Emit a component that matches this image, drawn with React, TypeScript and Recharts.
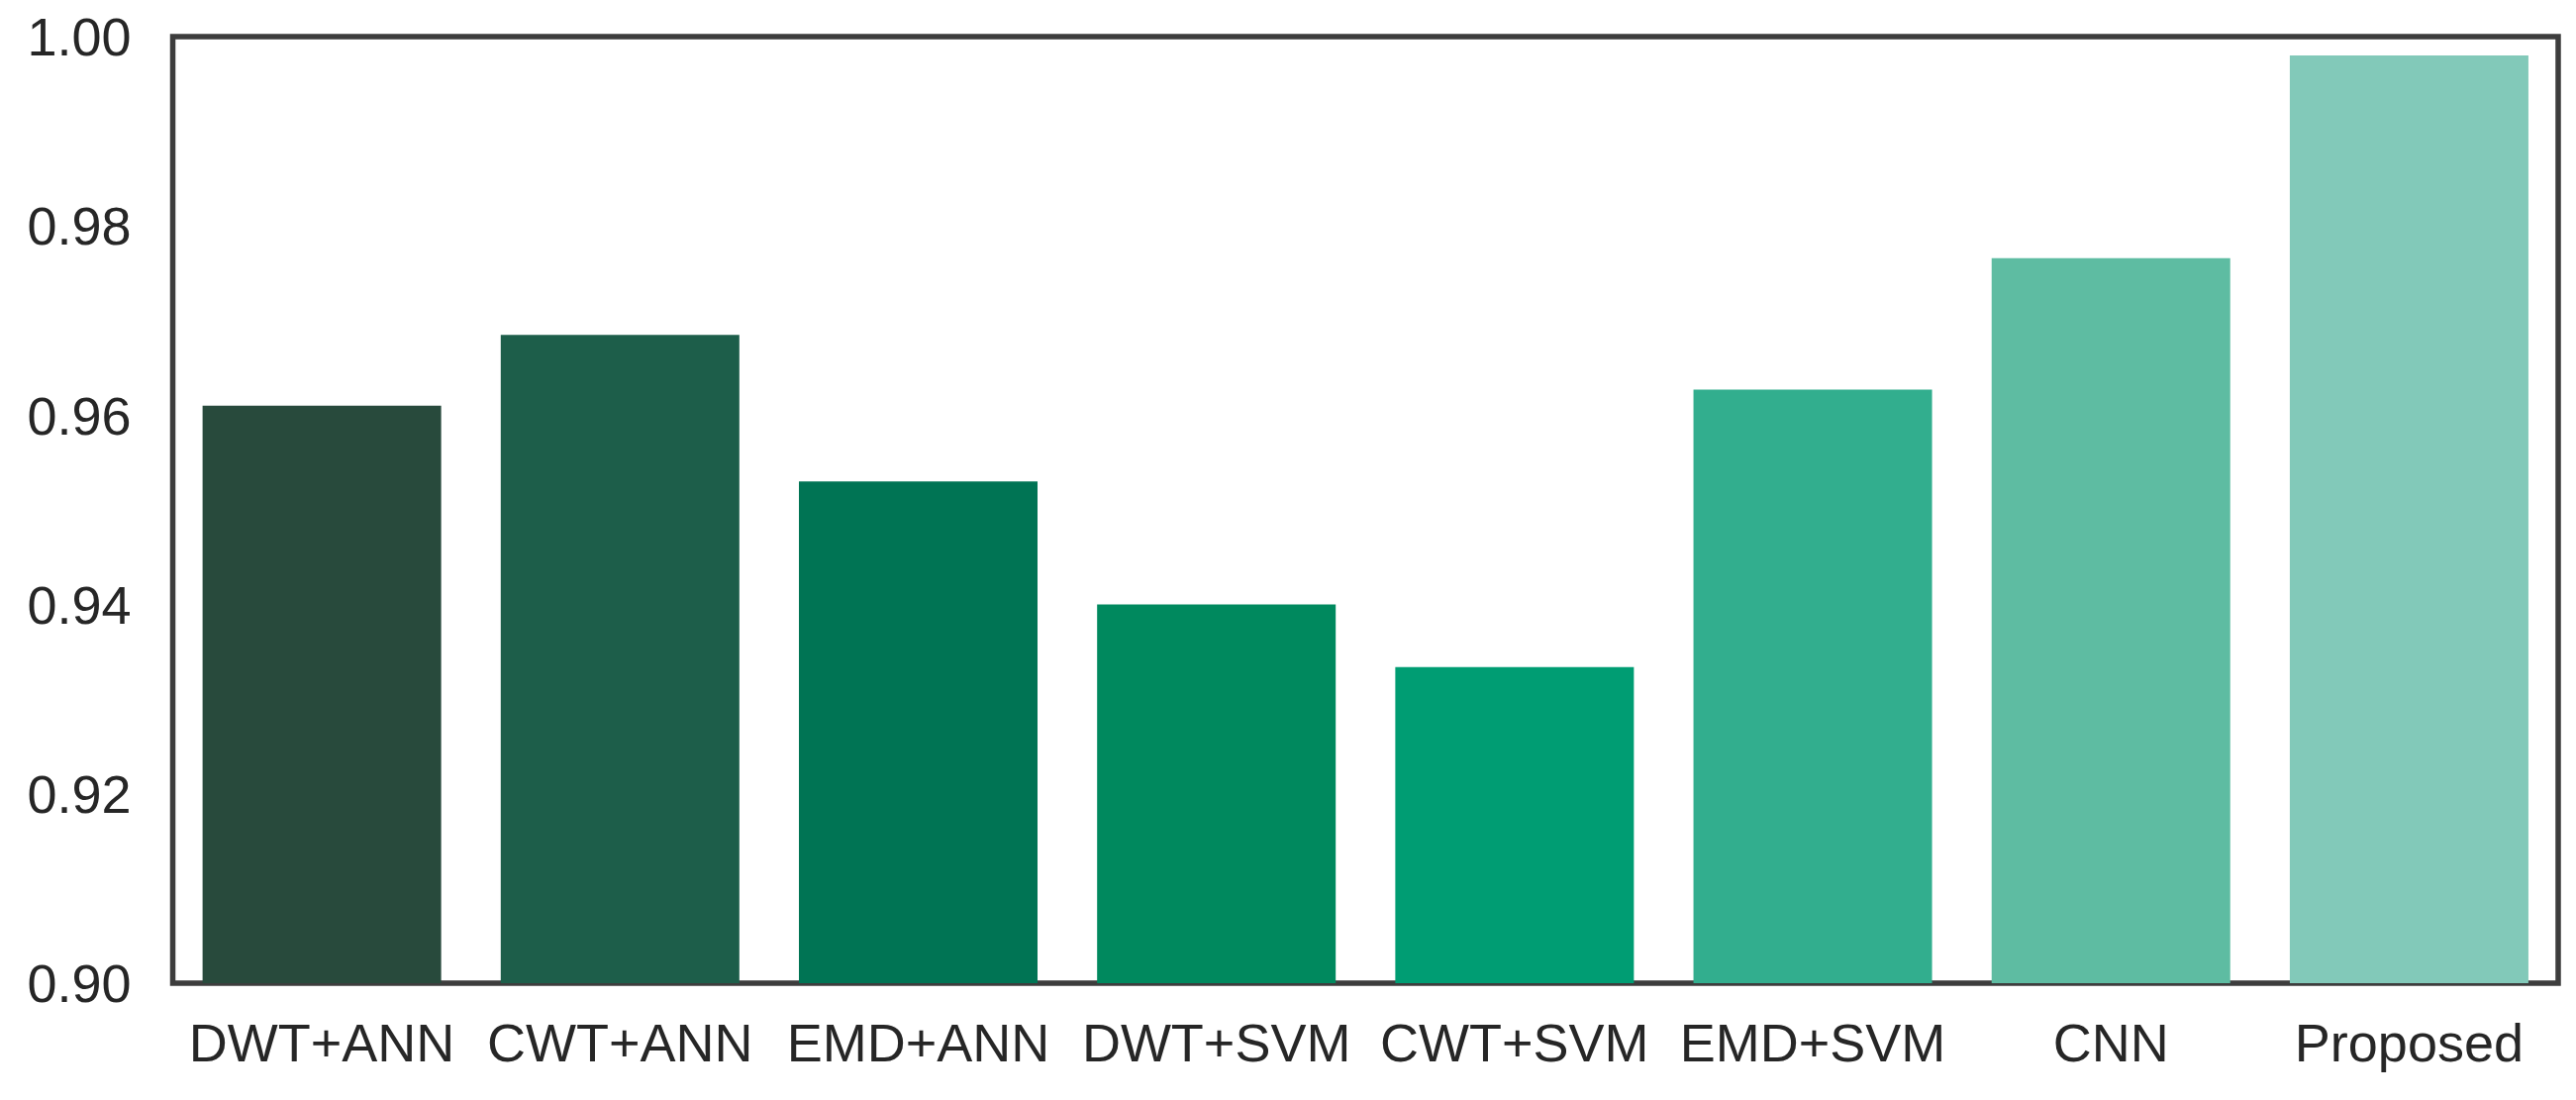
import { BarChart, Bar, XAxis, YAxis, Cell, ReferenceArea } from "recharts";

// method names along the x axis
const methods = [
  "DWT+ANN",
  "CWT+ANN",
  "EMD+ANN",
  "DWT+SVM",
  "CWT+SVM",
  "EMD+SVM",
  "CNN",
  "Proposed",
];

// scores
const scores = [0.961, 0.9685, 0.953, 0.94, 0.9334, 0.9627, 0.9766, 0.998];

// dark -> light green ramp, one per bar
const barColors = [
  "#284a3c",
  "#1d5e4a",
  "#007454",
  "#00895e",
  "#009d73",
  "#32ae8e",
  "#5ebca2",
  "#82c9b9",
];

const yTicks = [0.9, 0.92, 0.94, 0.96, 0.98, 1.0];

const data = methods.map((name, i) => ({ name, score: scores[i] }));

const textStyle = {
  fontFamily: "'Liberation Sans', Arial, sans-serif",
  fontSize: 54,
  fill: "#262626",
};

export default function App() {
  return (
    <div style={{ position: "absolute", left: 0, top: 0, background: "#fff" }}>
      <BarChart
        width={2602}
        height={1111}
        data={data}
        margin={{ top: 37, right: 18, left: 0, bottom: 0 }}
        barCategoryGap="10%"
      >
        <XAxis
          dataKey="name"
          height={118}
          tickSize={0}
          tickMargin={41}
          axisLine={false}
          tick={textStyle}
          interval={0}
        />
        <YAxis
          type="number"
          domain={[0.9, 1.0]}
          ticks={yTicks}
          allowDataOverflow
          width={174.5}
          tickSize={0}
          tickMargin={42}
          axisLine={false}
          tick={textStyle}
          tickFormatter={(v: number) => v.toFixed(2)}
        />
        <Bar dataKey="score" isAnimationActive={false}>
          {data.map((d, i) => (
            <Cell key={d.name} fill={barColors[i]} />
          ))}
        </Bar>
        {/* plot frame drawn over the bars */}
        <ReferenceArea
          y1={0.9}
          y2={1.0}
          fill="none"
          stroke="#3d3d3d"
          strokeWidth={5.5}
          ifOverflow="visible"
        />
      </BarChart>
    </div>
  );
}
